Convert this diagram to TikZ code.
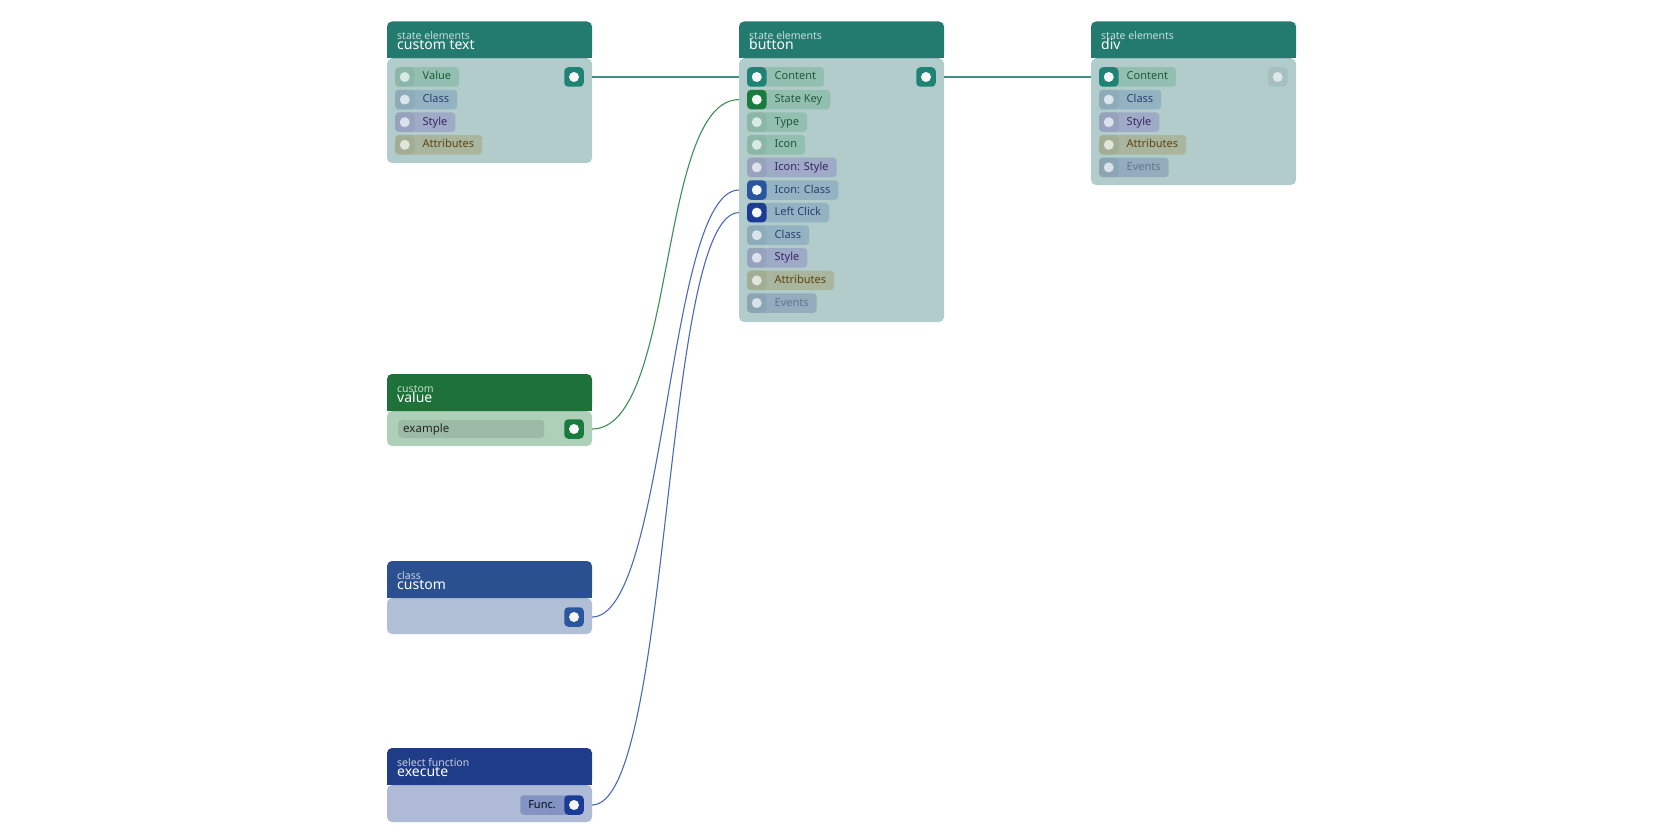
\documentclass[tikz,border=0pt]{standalone}
\usepackage{fontspec}
\setmainfont{Noto Sans}
\begin{document}
\definecolor{hteal}{HTML}{237B70}\definecolor{bteal}{HTML}{B1CCCB}
\definecolor{hgreen}{HTML}{1E7139}\definecolor{bgreen}{HTML}{AECFB8}
\definecolor{hblue}{HTML}{2B5090}\definecolor{bblue}{HTML}{B0BED6}
\definecolor{hdblue}{HTML}{1F3C88}\definecolor{bdblue}{HTML}{AFBAD6}
\definecolor{pgreen}{HTML}{93BFB0}\definecolor{tgreen}{HTML}{1E5B3A}
\definecolor{pblue}{HTML}{94B3C2}\definecolor{tblue}{HTML}{263F73}
\definecolor{ppurp}{HTML}{9EAAC6}\definecolor{tpurp}{HTML}{3B2368}
\definecolor{pbrown}{HTML}{A9B59C}\definecolor{tbrown}{HTML}{5B4413}
\definecolor{pev}{HTML}{93ADBD}\definecolor{tev}{HTML}{5C7790}
\definecolor{kteal}{HTML}{1E8274}\definecolor{kgreen}{HTML}{1B7A3E}
\definecolor{kblue}{HTML}{2A56A0}\definecolor{kdblue}{HTML}{1B3C96}
\definecolor{pex}{HTML}{9CBBA6}
\definecolor{lteal}{HTML}{3F8F86}\definecolor{lgreen}{HTML}{3A8F55}\definecolor{lblue}{HTML}{4A6AB5}
\newcommand{\nodebox}[7]{% x, ytop, ybottom, head, body, small, title
  \fill[#5,rounded corners=5] (#1,#2+37) rectangle (#1+205,#3);
  \fill[#5] (#1,#2+37) rectangle (#1+205,#2+30);
  \fill[#4,rounded corners=5] (#1,#2) rectangle (#1+205,#2+37);
  \fill[#4] (#1,#2+30) rectangle (#1+205,#2+37);
  \node[anchor=base west,inner sep=0,font=\fontsize{10.5}{11}\selectfont,text=white!75!#4] at (#1+10,#2+18) {#6};
  \node[anchor=base west,inner sep=0,font=\fontsize{14}{15}\selectfont,text=white] at (#1+10,#2+28.5) {#7};
}
\newcommand{\prow}[8]{% name, x, y, text, pill, textcol, portcol, active(1/0)
  \node[name=#1,anchor=west,fill=#5,rounded corners=3.5,minimum height=19.5,inner xsep=0,inner ysep=0,text=#6,
        font=\fontsize{11}{12}\selectfont,text height=8.5,text depth=2.5] at (#2,#3)
        {\hspace*{27.5pt}#4\hspace*{8pt}};
  \ifnum#8=1
    \fill[#7,rounded corners=4] (#2,#3-9.75) rectangle (#2+19.5,#3+9.75);
    \fill[white!95!#7] (#2+9.75,#3) circle[radius=5];
  \else
    \fill[#5!88!black,opacity=0.35,rounded corners=4] (#2,#3-9.75) rectangle (#2+19.5,#3+9.75);
    \fill[white!65!#5] (#2+9.75,#3) circle[radius=5];
  \fi
}
\newcommand{\oport}[4]{% name,x,y,color
  \fill[#4,rounded corners=4] (#2-9.75,#3-9.75) rectangle (#2+9.75,#3+9.75);
  \fill[white!95!#4] (#2,#3) circle[radius=5];
  \coordinate (#1) at (#2+18,#3);
}
\begin{tikzpicture}[x=1pt,y=-1pt]
\useasboundingbox (0,0) rectangle (1680,840);
\begin{scope}[xshift=-3pt]
% custom text
\nodebox{390}{21.5}{163}{hteal}{bteal}{state elements}{custom text}
\prow{ct-v}{398}{77}{Value}{pgreen}{tgreen}{kteal}{0}
\prow{ct-c}{398}{99.6}{Class}{pblue}{tblue}{kteal}{0}
\prow{ct-s}{398}{122.2}{Style}{ppurp}{tpurp}{kteal}{0}
\prow{ct-a}{398}{144.8}{Attributes}{pbrown}{tbrown}{kteal}{0}
\oport{ct-out}{577}{77}{kteal}
% button
\nodebox{742}{21.5}{322}{hteal}{bteal}{state elements}{button}
\prow{b1}{750}{77}{Content}{pgreen}{tgreen}{kteal}{1}
\prow{b2}{750}{99.6}{State Key}{pgreen}{tgreen}{kgreen}{1}
\prow{b3}{750}{122.2}{Type}{pgreen}{tgreen}{kteal}{0}
\prow{b4}{750}{144.8}{Icon}{pgreen}{tgreen}{kteal}{0}
\prow{b5}{750}{167.4}{Icon: Style}{ppurp}{tpurp}{kteal}{0}
\prow{b6}{750}{190}{Icon: Class}{pblue}{tblue}{kblue}{1}
\prow{b7}{750}{212.6}{Left Click}{pblue}{tblue}{kdblue}{1}
\prow{b8}{750}{235.2}{Class}{pblue}{tblue}{kteal}{0}
\prow{b9}{750}{257.8}{Style}{ppurp}{tpurp}{kteal}{0}
\prow{b10}{750}{280.4}{Attributes}{pbrown}{tbrown}{kteal}{0}
\prow{b11}{750}{303}{Events}{pev}{tev}{kteal}{0}
\oport{b-out}{929}{77}{kteal}
\coordinate (b-in1) at (742,77);\coordinate (b-in2) at (742,99.6);
\coordinate (b-in6) at (742,190);\coordinate (b-in7) at (742,212.6);
% div
\nodebox{1094}{21.5}{185}{hteal}{bteal}{state elements}{div}
\prow{d1}{1102}{77}{Content}{pgreen}{tgreen}{kteal}{1}
\prow{d2}{1102}{99.6}{Class}{pblue}{tblue}{kteal}{0}
\prow{d3}{1102}{122.2}{Style}{ppurp}{tpurp}{kteal}{0}
\prow{d4}{1102}{144.8}{Attributes}{pbrown}{tbrown}{kteal}{0}
\prow{d5}{1102}{167.4}{Events}{pev}{tev}{kteal}{0}
\fill[bteal!85!black,opacity=0.4,rounded corners=4] (1271,67.25) rectangle (1290.5,86.75);
\fill[white!55!bteal] (1280.75,77) circle[radius=5];
\coordinate (d-in1) at (1094,77);
% value
\nodebox{390}{374}{446}{hgreen}{bgreen}{custom}{value}
\node[name=v-ex,anchor=west,fill=pex,rounded corners=3.5,minimum height=18,inner xsep=5,inner ysep=0,
  font=\fontsize{11.5}{12}\selectfont,text=black!85,text height=8.5,text depth=2.5,text width=136,align=left] at (401,429) {example};
\oport{v-out}{577}{429}{kgreen}
% class
\nodebox{390}{561}{634}{hblue}{bblue}{class}{custom}
\oport{c-out}{577}{617}{kblue}
% execute
\nodebox{390}{748}{822}{hdblue}{bdblue}{select function}{execute}
\node[name=e-f,anchor=east,fill=kdblue!30!bdblue,rounded corners=3.5,minimum height=19.5,inner xsep=0,
  font=\fontsize{11}{12}\selectfont,text=black!80!kdblue,text height=8.5,text depth=2.5] at (577,805) {\hspace*{8pt}Func.\hspace*{18pt}};
\oport{e-out}{577}{805}{kdblue}
% connectors
\draw[lteal,line width=1.1] (ct-out) -- (b-in1);
\draw[lteal,line width=1.1] (b-out) -- (d-in1);
\draw[lgreen,line width=1.1] (v-out) .. controls (680,429) and (660,99.6) .. (b-in2);
\draw[lblue,line width=1.1] (c-out) .. controls (670,617) and (670,190) .. (b-in6);
\draw[lblue,line width=1.1] (e-out) .. controls (675,805) and (665,212.6) .. (b-in7);
\end{scope}
\end{tikzpicture}
\end{document}
